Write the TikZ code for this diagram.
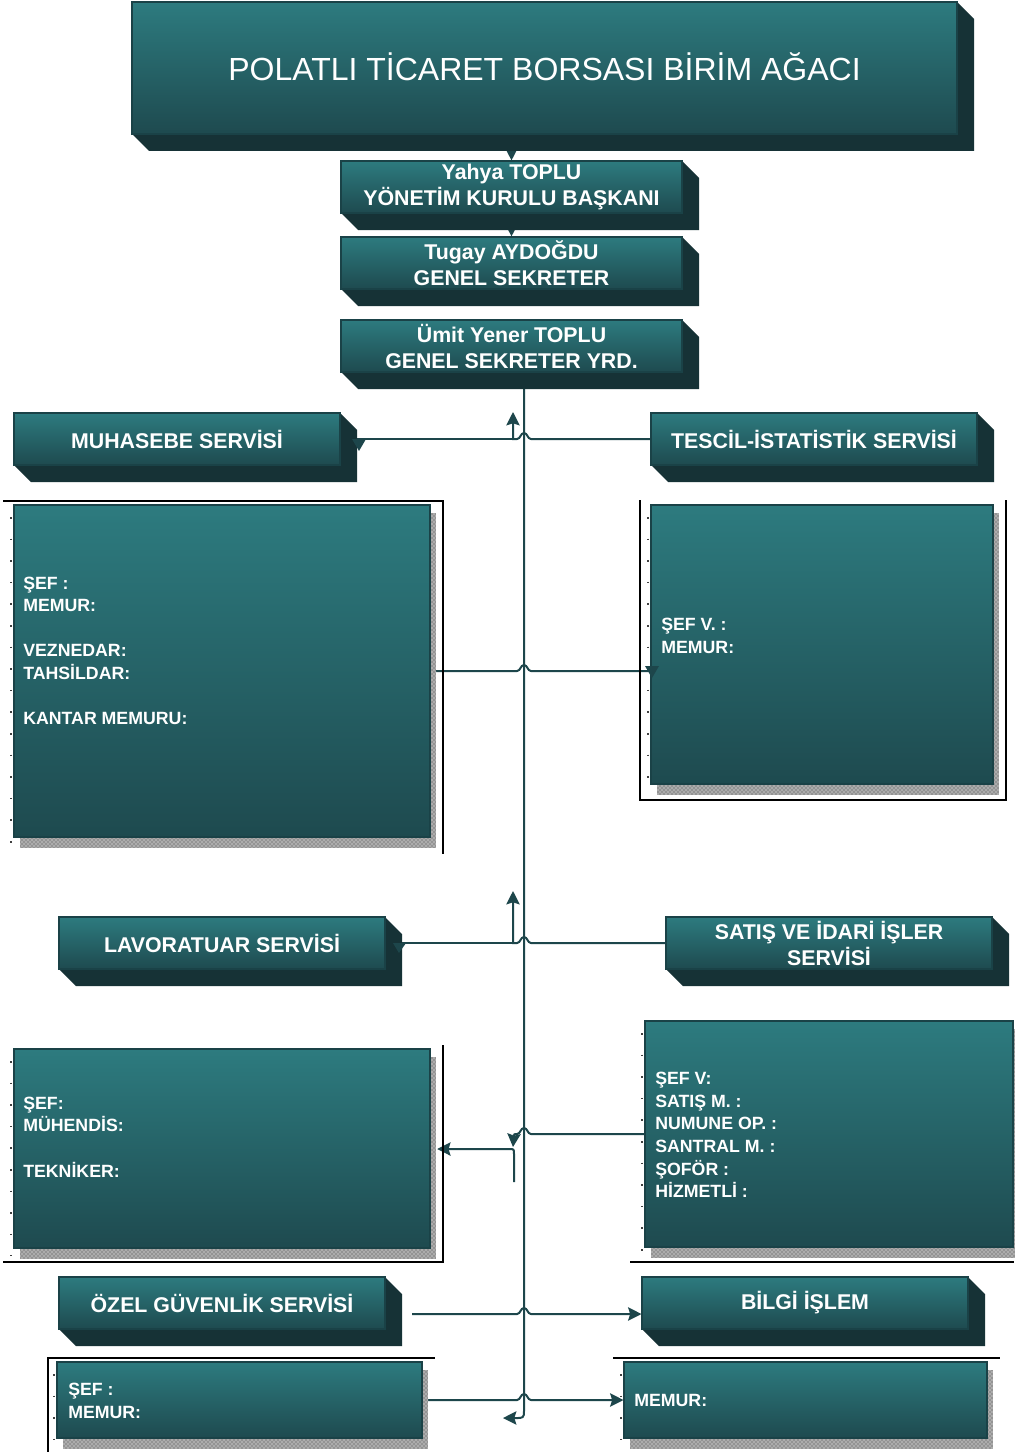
\documentclass[tikz,border=0pt]{standalone}
\usepackage{fontspec}
\setmainfont{Liberation Sans}
\usetikzlibrary{arrows.meta,patterns,backgrounds}
\definecolor{ftop}{HTML}{2D7B7F}
\definecolor{fbot}{HTML}{1E4A4F}
\definecolor{sidecol}{HTML}{163236}
\definecolor{edgecol}{HTML}{1A4247}
\definecolor{conncol}{HTML}{1D464B}
\tikzset{
 face/.style={top color=ftop,bottom color=fbot,draw=edgecol,line width=0.8pt,inner sep=0pt,text=white,align=center,font=\fontsize{16}{19.5}\selectfont\bfseries},
 dtext/.style={text=white,align=left,anchor=west,inner sep=0pt,font=\fontsize{13.3}{16.9}\selectfont\bfseries},
 framel/.style={draw=black,line width=0.8pt},
 conn/.style={draw=conncol,line width=1.5pt},
 arr/.style={-{Stealth[length=10pt,width=10pt,inset=1.5pt]}},
 jump/.style={insert path={-- (531,#1) .. controls (527.5,#1) and (527.5,#1-6) .. (524,#1-6) .. controls (520.5,#1-6) and (520.5,#1) .. (517,#1)}},
 jumpr/.style={insert path={-- (517,#1) .. controls (520.5,#1) and (520.5,#1-6) .. (524,#1-6) .. controls (527.5,#1-6) and (527.5,#1) .. (531,#1)}},
}
\newcommand\tdbox[7]{%
 \fill[sidecol] (#2,#5) -- (#2+#6,#5+#6) -- (#4+#6,#5+#6) -- (#4+#6,#3+#6) -- (#4,#3) -- cycle;
 \node[face,minimum width={(#4-#2)*0.75pt},minimum height={(#5-#3)*0.75pt}] (#1) at ({(#2+#4)/2},{(#3+#5)/2}) {#7};
}
\newcommand\detbox[5]{%
 \fill[black!42] (#2+6,#3+8) rectangle (#4+6,#5+11);
 \fill[pattern=crosshatch dots,pattern color=white] (#2+6,#3+8) rectangle (#4+6,#5+11);
 \draw[black!75,line width=1.2pt,dash pattern=on 1.2pt off 15pt] (#2-3,#3+12) -- (#2-3,#5+8);
 \node[face,minimum width={(#4-#2)*0.75pt},minimum height={(#5-#3)*0.75pt}] (#1) at ({(#2+#4)/2},{(#3+#5)/2}) {};
}
\begin{document}
\begin{tikzpicture}[x=0.75pt,y=-0.75pt]
\begin{pgfonlayer}{background}
\fill[white] (0,0) rectangle (1014,1452);
\end{pgfonlayer}
\useasboundingbox (0,0) rectangle (1014,1452);

% header boxes
\tdbox{title}{132}{2}{957}{134}{17}{\raisebox{2pt}{\fontsize{24}{28}\selectfont\mdseries POLATLI TİCARET BORSASI BİRİM AĞACI}}
\tdbox{yahya}{341}{161}{682}{213}{17}{Yahya TOPLU\\YÖNETİM KURULU BAŞKANI}
\tdbox{tugay}{341}{237}{682}{289}{17}{Tugay AYDOĞDU\\GENEL SEKRETER}
\tdbox{umit}{341}{320}{682}{372}{17}{Ümit Yener TOPLU\\GENEL SEKRETER YRD.}

% service boxes
\tdbox{muh}{14}{413}{340}{465}{17}{MUHASEBE SERVİSİ}
\tdbox{tes}{651}{413}{977}{465}{17}{TESCİL-İSTATİSTİK SERVİSİ}
\tdbox{lav}{59}{917}{385}{969}{17}{LAVORATUAR SERVİSİ}
\tdbox{sat}{666}{917}{992}{969}{17}{SATIŞ VE İDARİ İŞLER\\SERVİSİ}
\tdbox{ozl}{59}{1277}{385}{1329}{17}{ÖZEL GÜVENLİK SERVİSİ}
\tdbox{bil}{642}{1277}{968}{1329}{17}{BİLGİ İŞLEM}

% frames
\draw[framel] (3,501) -- (443,501) -- (443,854);
\draw[framel] (640,500) -- (640,800) -- (1006,800) -- (1006,500);
\draw[framel] (443,1045) -- (443,1262) -- (3,1262);
\draw[framel] (630,1262) -- (1014,1262);
\draw[framel] (48,1452) -- (48,1358) -- (435,1358);
\draw[framel] (613,1358) -- (1000,1358);

% detail boxes
\detbox{d1}{14}{505}{430}{837}
\detbox{d2}{651}{505}{993}{784}
\detbox{d3}{14}{1049}{430}{1248}
\detbox{d4}{645}{1021}{1013}{1247}
\detbox{d5}{57}{1362}{422}{1438}
\detbox{d6}{624}{1362}{987}{1438}

\node[dtext] (t1) at (23,650.5) {ŞEF :\\MEMUR:\\[16.9pt]VEZNEDAR:\\TAHSİLDAR:\\[16.9pt]KANTAR MEMURU:};
\node[dtext] (t2) at (661,636) {ŞEF V. :\\MEMUR:};
\node[dtext] (t3) at (23,1137) {ŞEF:\\MÜHENDİS:\\[16.9pt]TEKNİKER:};
\node[dtext] (t4) at (655,1135) {ŞEF V:\\SATIŞ M. :\\NUMUNE OP. :\\SANTRAL M. :\\ŞOFÖR :\\HİZMETLİ :};
\node[dtext] (t5) at (68,1401) {ŞEF :\\MEMUR:};
\node[dtext] (t6) at (634,1400) {MEMUR:};

% free connector ends
\coordinate (trk) at (524,372);
\coordinate (trunkEnd) at (503,1418);
\coordinate (up1) at (513,412);
\coordinate (up2) at (513,891);
\coordinate (dn4) at (513,1147);
\coordinate (st3) at (514,1182);
\coordinate (oz) at (412,1314);

\begin{pgfonlayer}{background}
\draw[conn,arr] (title.south -| yahya.north) -- (yahya.north);
\draw[conn,arr] (yahya.south) -- (tugay.north);
\draw[conn,arr] (umit.south -| trk) -- (524,1411) .. controls (524,1418) and (523,1418) .. (516,1418) -- (trunkEnd);
% row 1
\draw[conn] (muh.east) -- (513,439);
\draw[conn,arr] (tes.west) [jump=439] -- (513,439) -- (up1);
\draw[conn] (d1.east) [jumpr=671] -- (d2.west |- d1.east);
% row 2
\draw[conn] (lav.east) -- (513,943);
\draw[conn,arr] (sat.west) [jump=943] -- (513,943) -- (up2);
\draw[conn,arr] (d4.west) [jump=1134] -- (518,1134) .. controls (514,1134) .. (dn4);
\draw[conn,arr] (st3) -- (514,1154) .. controls (514,1149) .. (509,1149) -- ([xshift=5pt]d3.east |- 0,1149);
% row 3
\draw[conn,arr] (oz) [jumpr=1314] -- (bil.west |- oz);
\draw[conn,arr] ([xshift=3pt]d5.east) [jumpr=1400] -- (d6.west);
\end{pgfonlayer}

% small arrowheads drawn over boxes
\fill[conncol] (352,439) -- (366,439) -- (359,451) -- cycle;
\fill[conncol] (393,943) -- (406,943) -- (399,953) -- cycle;
\fill[conncol] (645,666) -- (659,666) -- (652,678) -- cycle;
\end{tikzpicture}
\end{document}
